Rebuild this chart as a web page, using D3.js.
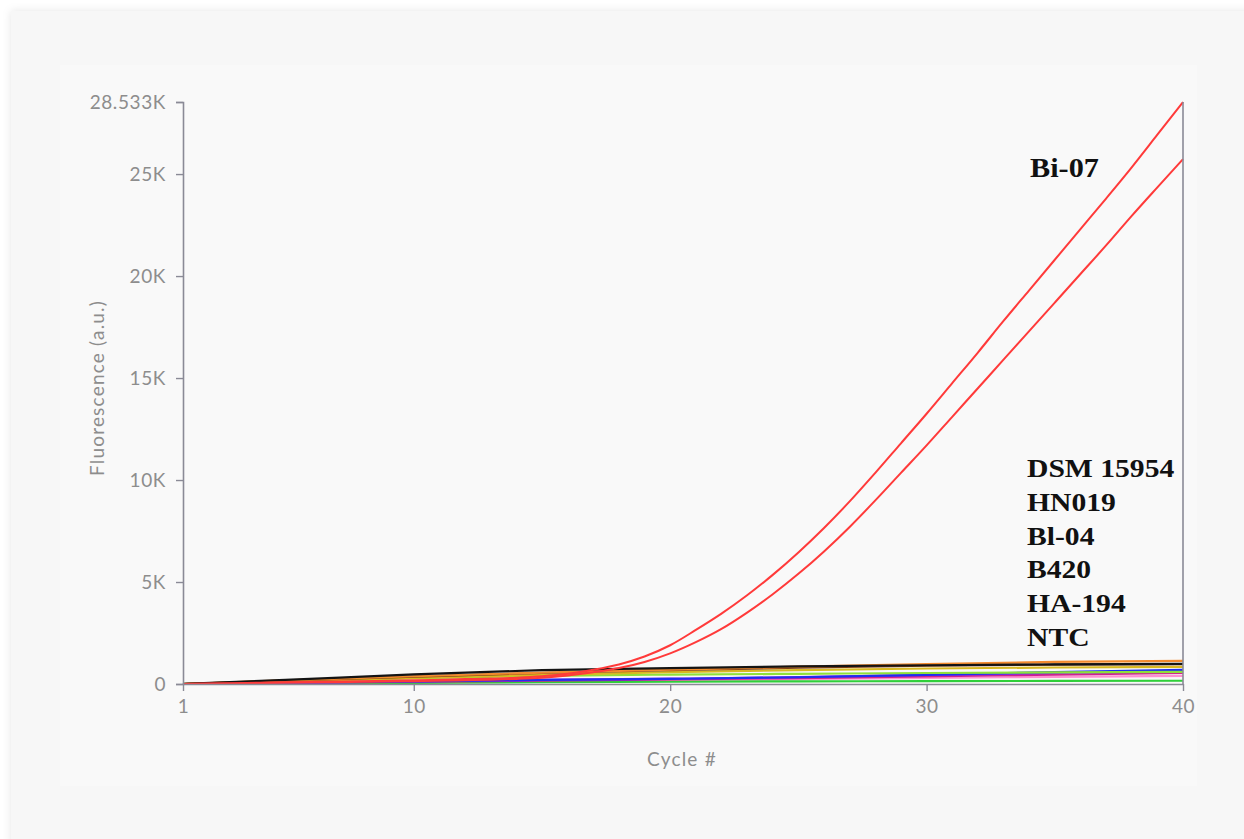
<!DOCTYPE html>
<html>
<head>
<meta charset="utf-8">
<script src="https://cdn.jsdelivr.net/npm/d3@7"></script>
<style>
  html, body { margin: 0; padding: 0; background: #ffffff; }
  svg { display: block; }
</style>
</head>
<body>
<svg id="chart" width="1244" height="839"></svg>
<script>
// Amplification cycles
const cycles = [1,2,3,4,5,6,7,8,9,10,11,12,13,14,15,16,17,18,19,20,
                21,22,23,24,25,26,27,28,29,30,31,32,33,34,35,36,37,38,39,40];

// Bi-07 replicates (fluorescence per cycle)
const bi07A = [0,20,40,60,80,100,120,140,160,180,210,240,270,310,380,500,700,960,1350,1900,
               2650,3450,4350,5350,6450,7650,8950,10350,11800,13250,14750,16250,17800,19300,20800,22300,23800,25330,26930,28533];
const bi07B = [0,15,30,45,60,75,90,105,120,140,160,185,210,250,310,420,580,780,1080,1500,
               2050,2700,3500,4400,5400,6500,7700,9000,10350,11700,13100,14500,15900,17300,18700,20100,21500,22950,24350,25735];

// Non-amplifying wells, read at selected cycles
const sampleCycles = [1,5,10,15,20,25,30,35,40];
const wellBlack   = [0,200,470,680,780,860,920,960,990];
const wellOrange  = [0,180,380,560,700,850,980,1080,1130];
const wellBrown   = [0,170,360,540,680,800,900,950,970];
const wellOlive   = [0,140,300,450,580,680,760,810,840];
const wellLime    = [0,120,290,400,460,500,540,570,590];
const wellBlue    = [0,60,130,200,250,330,450,580,690];
const wellPurple  = [0,60,130,200,260,340,440,540,620];
const wellMagenta = [0,50,110,170,220,290,370,460,540];
const wellPink    = [0,40,90,140,180,240,300,350,400];
const wellGreen   = [0,30,60,90,110,130,140,150,160];

const flatWells = [
  {values: wellPink,    color: "#ff8fd0"},
  {values: wellGreen,   color: "#2fcf3a"},
  {values: wellMagenta, color: "#d0208c"},
  {values: wellPurple,  color: "#8a2be2"},
  {values: wellBlue,    color: "#1f2ef0"},
  {values: wellLime,    color: "#8fe03a"},
  {values: wellOlive,   color: "#d8b820"},
  {values: wellBrown,   color: "#7a3a12"},
  {values: wellOrange,  color: "#f28a2e"},
  {values: wellBlack,   color: "#141414"}
];

const yTickValues = [0, 5000, 10000, 15000, 20000, 25000, 28533];
const yTickLabels = ["0", "5K", "10K", "15K", "20K", "25K", "28.533K"];
const xTickValues = [1, 10, 20, 30, 40];

const strainLabels = ["DSM 15954", "HN019", "Bl-04", "B420", "HA-194", "NTC"];
const ampLabel = "Bi-07";

const svg = d3.select("#chart");

// card + inner panel
const defs = svg.append("defs");
const sh = defs.append("filter").attr("id", "shadow")
  .attr("x", "-5%").attr("y", "-5%").attr("width", "110%").attr("height", "110%");
sh.append("feDropShadow").attr("dx", 0).attr("dy", 0).attr("stdDeviation", 4)
  .attr("flood-color", "#000").attr("flood-opacity", 0.10);

svg.append("rect").attr("x", 11).attr("y", 11).attr("width", 1260).attr("height", 860)
  .attr("fill", "#f7f7f7").attr("filter", "url(#shadow)");
svg.append("rect").attr("x", 60).attr("y", 65).attr("width", 1137).attr("height", 721)
  .attr("fill", "#f9f9f9");

const x0 = 183, x1 = 1183, yTop = 102, yBot = 684;
const x = d3.scaleLinear().domain([1, 40]).range([x0, x1]);
const y = d3.scaleLinear().domain([0, 28533]).range([yBot, yTop]);

const axisColor = "#8a8a96";
const textColor = "#8d8d8d";
const tickFont = "Lato, 'Open Sans', sans-serif";

// curves
const plot = svg.append("g");
const lineSparse = d3.line()
  .x((d, i) => x(sampleCycles[i]))
  .y(d => y(d))
  .curve(d3.curveMonotoneX);
const lineFull = d3.line()
  .x((d, i) => x(cycles[i]))
  .y(d => y(d))
  .curve(d3.curveMonotoneX);

flatWells.forEach(w => {
  plot.append("path").attr("d", lineSparse(w.values))
    .attr("fill", "none").attr("stroke", w.color).attr("stroke-width", 2.2);
});
[bi07A, bi07B].forEach(v => {
  plot.append("path").attr("d", lineFull(v))
    .attr("fill", "none").attr("stroke", "#ff3a3a").attr("stroke-width", 2);
});

function styleTicks(g) {
  g.select(".domain").attr("stroke", axisColor).attr("stroke-width", 1.6);
  g.selectAll(".tick line").attr("stroke", axisColor).attr("stroke-width", 1.4);
  g.selectAll(".tick text").attr("fill", textColor)
    .style("font-family", tickFont).style("font-size", "19px")
    .style("letter-spacing", "0.6px");
}

// y axis
const yAxis = d3.axisLeft(y).tickValues(yTickValues)
  .tickFormat((d, i) => yTickLabels[i]).tickSize(7).tickSizeOuter(7).tickPadding(10);
const gy = svg.append("g").attr("transform", `translate(${x0},0)`).call(yAxis);
styleTicks(gy);

// x axis
const xAxis = d3.axisBottom(x).tickValues(xTickValues).tickSize(7).tickSizeOuter(0).tickPadding(9);
const gx = svg.append("g").attr("transform", `translate(0,${yBot})`).call(xAxis);
styleTicks(gx);

// right border of plot
svg.append("line").attr("x1", x1).attr("x2", x1).attr("y1", yTop).attr("y2", yBot)
  .attr("stroke", axisColor).attr("stroke-width", 1.6);

// axis titles
svg.append("text").attr("x", 682).attr("y", 766).attr("text-anchor", "middle")
  .attr("fill", textColor).style("font-family", tickFont).style("font-size", "19px")
  .style("letter-spacing", "1.2px").text("Cycle #");
svg.append("text").attr("transform", "translate(104,388) rotate(-90)").attr("text-anchor", "middle")
  .attr("fill", textColor).style("font-family", tickFont).style("font-size", "19px")
  .style("letter-spacing", "1.2px").text("Fluorescence (a.u.)");

// strain annotations
const serif = "'Liberation Serif', 'Times New Roman', serif";
svg.append("text").attr("transform", "translate(1030,177) scale(1.12,1)")
  .attr("fill", "#111").style("font-family", serif).style("font-size", "27px")
  .style("font-weight", 700).text(ampLabel);

const lab = svg.append("g").attr("transform", "translate(1027,0)");
lab.selectAll("text").data(strainLabels).join("text")
  .attr("transform", (d, i) => `translate(0,${477 + i * 33.8}) scale(1.14,1)`)
  .attr("fill", "#111").style("font-family", serif).style("font-size", "26px")
  .style("font-weight", 700).text(d => d);
</script>
</body>
</html>
